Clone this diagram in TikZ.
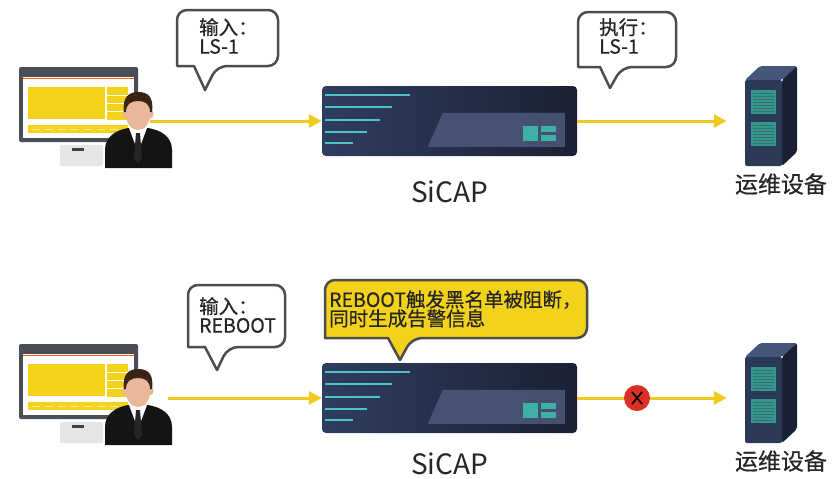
\documentclass[tikz,border=0pt]{standalone}
\usepackage{fontspec}
\setmainfont{Noto Sans CJK SC}
\newfontfamily\bubfont[FakeBold=0.6]{Noto Sans CJK SC}
\usetikzlibrary{arrows.meta}

\definecolor{flowyellow}{HTML}{F0CB1E}
\definecolor{scryellow}{HTML}{F5D31C}
\definecolor{framegray}{HTML}{4A4E56}
\definecolor{navyL}{HTML}{2F3D5F}
\definecolor{navyR}{HTML}{1B2133}
\definecolor{panelblue}{HTML}{4B5679}
\definecolor{ledteal}{HTML}{3DB2A2}
\definecolor{lineteal}{HTML}{4CC3C9}
\definecolor{edgegray}{HTML}{4D4D4D}
\definecolor{noteyellow}{HTML}{F2D21B}
\definecolor{stopred}{HTML}{D93125}
\definecolor{hair}{HTML}{3A2416}
\definecolor{skin}{HTML}{E9B898}
\definecolor{srvfront}{HTML}{2C3957}
\definecolor{srvside}{HTML}{1A2034}
\definecolor{srvtop}{HTML}{46557A}

\tikzset{
  flow/.style={draw=flowyellow, line width=3pt, -{Triangle[length=13pt,width=13pt]}},
  talk/.style={draw=edgegray, line width=2.5pt, fill=white, line join=round},
  note/.style={talk, fill=noteyellow, draw=black!70},
  sicap/.style={minimum width=255pt, minimum height=70pt, rounded corners=4pt,
    left color=navyL, right color=navyR, inner sep=0pt},
  srvbox/.style={minimum width=52pt, minimum height=102pt, inner sep=0pt},
  devname/.style={text=black!85, inner sep=0pt},
  bubtext/.style={align=left, inner sep=0pt, anchor=west, text=black!85,
    font=\bubfont\fontsize{19.5}{19}\selectfont},
  stopmark/.style={circle, fill=stopred, minimum size=26pt, inner sep=0pt},
}

% 对话框: 样式, 左上x, 上y, 右x, 下y, 尾巴左x, 尾巴右x, 尖端
\newcommand\talkbox[8]{%
  \draw[#1,rounded corners=10pt] ({(#2+#4)/2},#3) -- (#4,#3) -- (#4,#5) -- (#7,#5)
    [sharp corners] -- #8 -- (#6,#5) -- (#2,#5) [rounded corners=10pt] -- (#2,#3) -- cycle;}

\begin{document}
\begin{tikzpicture}[x=1pt, y=-1pt]
\useasboundingbox (0,0) rectangle (835,479);

% 两行: 行号/下移量/箭头起点/SiCAP 文字位置
\foreach \r/\dy/\sx/\ty in {1/0/150/192, 2/277/168/187} {
\begin{scope}[yshift=-\dy pt]
  % 显示器
  \fill[framegray, rounded corners=2pt] (19,67) rectangle (138,142);
  \fill[white] (23,77) rectangle (134,138);
  \draw[orange!70!red, line width=1pt] (23,78) -- (134,78);
  \fill[scryellow] (28,87) rectangle (105,119);
  \fill[scryellow] (107,87) rectangle (128,120);
  \foreach \y in {95,103,111} \draw[white, line width=.8pt] (107,\y) -- (128,\y);
  \fill[scryellow] (28,125) rectangle (128,133);
  \foreach \x in {32,45,58,71,84,97,110} \draw[white!60!scryellow, line width=1pt] (\x,129) -- +(8,0);
  % 底座
  \fill[black!10, rounded corners=2pt] (60,145) rectangle (103,166);
  \fill[black!75] (72,148) rectangle (84,150.5);

  % SiCAP 设备
  \node[sicap] (gw\r) at (449.5,121) {};
  \begin{scope}[shift={(gw\r.north west)}]
    \foreach \y/\l in {9/88, 21/70, 34/58, 46/45, 57/31}
      \draw[lineteal, line width=2pt] (3,\y) -- (\l,\y);
    \fill[panelblue, opacity=.9] (106,61) -- (121,27) -- (243,27) -- (243,61) -- cycle;
    \fill[ledteal] (201,40) rectangle (216,55);
    \fill[ledteal] (219,40) rectangle (234,46);
    \fill[ledteal] (219,49) rectangle (234,55);
  \end{scope}
  \node[devname, font=\fontsize{28}{28}\selectfont] (gwname\r) at (449.5,\ty) {SiCAP};

  % 运维设备(服务器)
  \node[srvbox] (srv\r) at (771,121) {};
  \fill[srvtop, rounded corners=2pt] (745,80) -- (760,66) -- (797,66) -- (782,80) -- cycle;
  \fill[srvside, rounded corners=2pt] (782,80) -- (797,66) -- (797,152) -- (782,166) -- cycle;
  \fill[srvfront, rounded corners=2pt] (745,80) rectangle (782,166);
  \foreach \y in {90,122} {
    \fill[ledteal!85!black] (751,\y) rectangle (776,\y+24);
    \foreach \k in {1,...,7}
      \draw[srvfront!55!ledteal, line width=.6pt] (753,\y+3*\k) -- (774,\y+3*\k);
  }
  \node[devname, font=\bubfont\fontsize{23}{23}\selectfont] (srvname\r) at (781,184) {运维设备};

  % 连线
  \coordinate (src\r) at (\sx,121);
  \draw[flow] (src\r) -- (gw\r.west);
  \draw[flow, shorten >=18pt] (gw\r.east) -- (srv\r.west);

  % 操作员
  \fill[black!92] (105,168) -- (105,150) .. controls (105,136) and (117,130) .. (128,128)
    -- (148,128) .. controls (160,130) and (172,136) .. (172,150) -- (172,168) -- cycle;
  \fill[skin] (131,120) rectangle (145,134);
  \fill[white] (129,128) -- (147,128) -- (138,152) -- cycle;
  \fill[black!85] (136,133) -- (140,133) -- (142,158) -- (138,163) -- (134,158) -- cycle;
  \fill[skin] (125,114) ellipse (2.5 and 4);
  \fill[skin] (151,114) ellipse (2.5 and 4);
  \fill[skin] (138,113) ellipse (12.5 and 17);
  \fill[hair] (124,112) .. controls (122,96) and (130,92) .. (138,92)
    .. controls (148,92) and (154,97) .. (152,112) -- (150,112)
    .. controls (150,104) and (145,101) .. (138,101)
    .. controls (131,101) and (126,104) .. (126,112) -- cycle;
\end{scope}
}

% 第二行: 命令被阻断
\node[stopmark] (blk) at (637,398) {};
\draw[line width=1.6pt] (blk.center) +(-5,-6) -- +(5,6) +(-5,6) -- +(5,-6);

% 对话框
\talkbox{talk}{177}{10}{278}{66}{194}{217}{(205,90)}
\node[bubtext] (in1) at (199,36) {输入：\\LS-1};
\talkbox{talk}{578}{12}{676}{67}{600}{622}{(610,88)}
\node[bubtext] (ex1) at (599,36) {执行：\\LS-1};
\talkbox{talk}{188}{285}{285}{347}{205}{228}{(217,370)}
\node[bubtext] (in2) at (199,315) {输入：\\REBOOT};
\talkbox{note}{325}{280}{587}{338}{388}{412}{(400,360)}
\node[bubtext] (msg) at (329,309) {REBOOT触发黑名单被阻断，\\同时生成告警信息};

\end{tikzpicture}
\end{document}
